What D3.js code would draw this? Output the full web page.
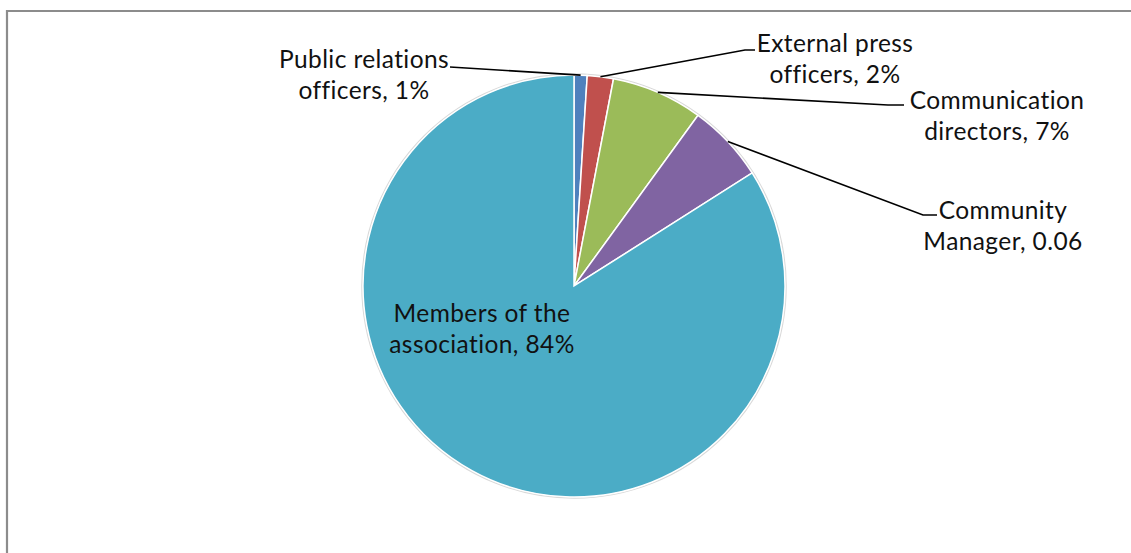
<!DOCTYPE html>
<html><head><meta charset="utf-8">
<script src="https://cdn.jsdelivr.net/npm/d3@7"></script>
<style>html,body{margin:0;padding:0;background:#fff;} svg{display:block;}</style>
</head><body>
<svg id="c" width="1131" height="553"></svg>
<script>
const categories = ["Public relations officers", "External press officers", "Communication directors", "Community Manager", "Members of the association"];
const values = [1, 2, 7, 6, 84];
const labelText = [
  ["Public relations", "officers, 1%"],
  ["External press", "officers, 2%"],
  ["Communication", "directors, 7%"],
  ["Community", "Manager, 0.06"],
  ["Members of the", "association, 84%"]
];
const colors = ["#4F81BD", "#C0504D", "#9BBB59", "#8064A2", "#4BACC6"];

const svg = d3.select("#c");
// chart frame
svg.append("path").attr("d", "M7,553 V11 H1131").attr("fill", "none").attr("stroke", "#8c8c8c").attr("stroke-width", 2.2);

const cx = 574, cy = 286, R = 211;
const g = svg.append("g").attr("transform", `translate(${cx},${cy})`);
const pie = d3.pie().sort(null).value(d => d)(values);
const arc = d3.arc().innerRadius(0).outerRadius(R);

g.append("circle").attr("r", R + 1).attr("fill", "none").attr("stroke", "#d9d9d9").attr("stroke-width", 1.5);
g.selectAll("path.s").data(pie).join("path").attr("class", "s")
  .attr("d", arc).attr("fill", (d, i) => colors[i])
  .attr("stroke", "#fff").attr("stroke-width", 1.5);

// label layout (text centre x, first baseline y, leader end point, elbow point)
const layout = [
  {tx: 364, ty: 68, pts: [[450, 67]]},
  {tx: 835, ty: 52, pts: [[755, 50], [745, 50]]},
  {tx: 997, ty: 109, pts: [[904, 105], [888, 105]]},
  {tx: 1003, ty: 219, pts: [[937, 215], [923, 215]]},
  {tx: 482, ty: 322, pts: null}
];
const lh = 31;
pie.forEach((d, i) => {
  const L = layout[i];
  if (L.pts) {
    const a = (d.startAngle + d.endAngle) / 2;
    const p0 = [cx + R * Math.sin(a), cy - R * Math.cos(a)];
    const line = d3.line();
    svg.append("path").attr("d", line([...L.pts, p0]))
      .attr("fill", "none").attr("stroke", "#000").attr("stroke-width", 1.6);
  }
  const t = svg.append("text").attr("x", L.tx).attr("y", L.ty)
    .attr("text-anchor", "middle").attr("font-family", "Lato, 'Open Sans', sans-serif")
    .attr("font-size", 24.5).attr("letter-spacing", 0.4).attr("fill", "#111");
  labelText[i].forEach((s, k) => t.append("tspan").attr("x", L.tx).attr("dy", k === 0 ? 0 : lh).text(s));
});
</script>
</body></html>
